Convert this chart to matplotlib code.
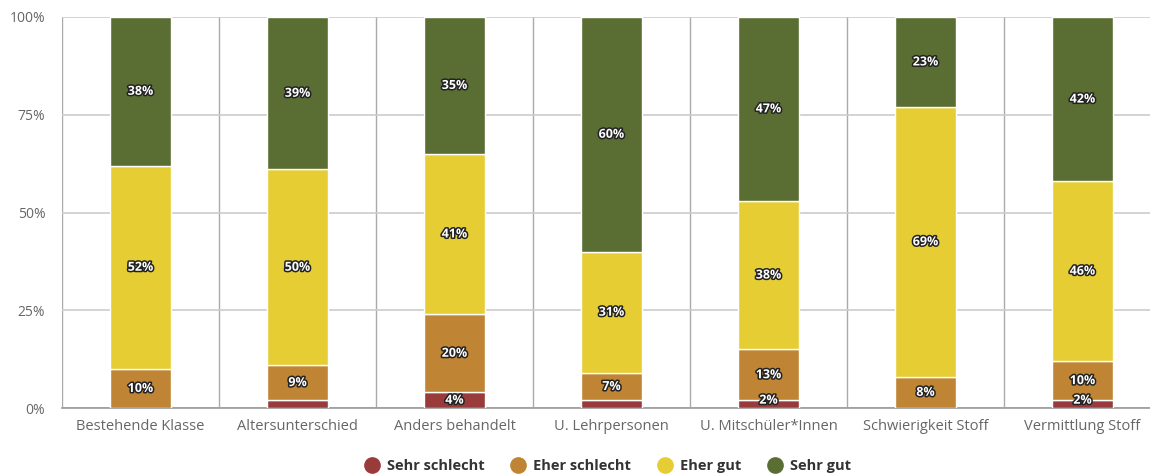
import matplotlib
matplotlib.use("Agg")
import matplotlib.pyplot as plt
import matplotlib.patheffects as pe
import numpy as np

categories = ["Bestehende Klasse", "Altersunterschied", "Anders behandelt",
              "U. Lehrpersonen", "U. Mitschüler*Innen", "Schwierigkeit Stoff",
              "Vermittlung Stoff"]
series_names = ["Sehr schlecht", "Eher schlecht", "Eher gut", "Sehr gut"]
sehr_schlecht = [0, 2, 4, 2, 2, 0, 2]
eher_schlecht = [10, 9, 20, 7, 13, 8, 10]
eher_gut = [52, 50, 41, 31, 38, 69, 46]
sehr_gut = [38, 39, 35, 60, 47, 23, 42]
# labels shown for "Sehr schlecht" (others hidden in the original)
sehr_schlecht_show = [False, False, True, False, True, False, True]
y_ticks = [0, 25, 50, 75, 100]
y_tick_labels = ["0%", "25%", "50%", "75%", "100%"]

colors = ["#993B3B", "#BF8434", "#E5CD33", "#5A6E33"]

plt.rcParams['font.family'] = ['Open Sans', 'DejaVu Sans']

fig = plt.figure(figsize=(11.5, 4.74), dpi=100)
ax = fig.add_axes([62/1150, 66/474, 1099/1150, 391/474])

data = [sehr_schlecht, eher_schlecht, eher_gut, sehr_gut]
x = np.arange(len(categories))
bottom = np.zeros(len(categories))
outline = [pe.withStroke(linewidth=2.2, foreground="#222222")]
for si, (vals, col) in enumerate(zip(data, colors)):
    vals = np.array(vals, dtype=float)
    ax.bar(x, vals, bottom=bottom, width=0.39, color=col, edgecolor="white",
           linewidth=1, zorder=3, label=series_names[si])
    for i, v in enumerate(vals):
        if v <= 0:
            continue
        if si == 0 and not sehr_schlecht_show[i]:
            continue
        ypos = max(bottom[i] + v / 2, 2.0)  # keep label inside plot area
        ax.text(x[i], ypos, f"{int(v)}%", ha="center", va="center",
                color="white", fontsize=9, fontweight="bold",
                path_effects=outline, zorder=5)
    bottom += vals

ax.set_xlim(-0.5, len(categories) - 0.5)
ax.set_ylim(0, 100)
ax.set_yticks(y_ticks)
ax.set_yticklabels(y_tick_labels)
ax.set_xticks(x)
ax.set_xticklabels(categories)
ax.set_xticks(np.arange(len(categories) + 1) - 0.5, minor=True)

ax.grid(axis="y", color="#cccccc", linewidth=1.2, zorder=0)
ax.grid(axis="x", which="minor", color="#aaaaaa", linewidth=1, zorder=0)
ax.grid(axis="x", which="major", visible=False)
for s in ["top", "right", "left"]:
    ax.spines[s].set_visible(False)
ax.spines["bottom"].set_color("#999999")
ax.spines["bottom"].set_linewidth(1.2)
ax.tick_params(axis="both", which="both", length=0)
ax.tick_params(axis="y", colors="#666666", labelsize=10, pad=12)
ax.tick_params(axis="x", colors="#666666", labelsize=10.5, pad=8)

handles = [plt.Line2D([0], [0], marker="o", linestyle="", markersize=11,
                      markerfacecolor=c, markeredgecolor=c) for c in colors]
leg = fig.legend(handles, series_names, loc="center", bbox_to_anchor=(607/1150, 8/474),
                 ncol=4, frameon=False, handletextpad=0.45, columnspacing=1.7,
                 handlelength=1.2, prop={"weight": "bold", "size": 10.5})
for t in leg.get_texts():
    t.set_color("#333333")

fig.savefig("out.png", dpi=100)
